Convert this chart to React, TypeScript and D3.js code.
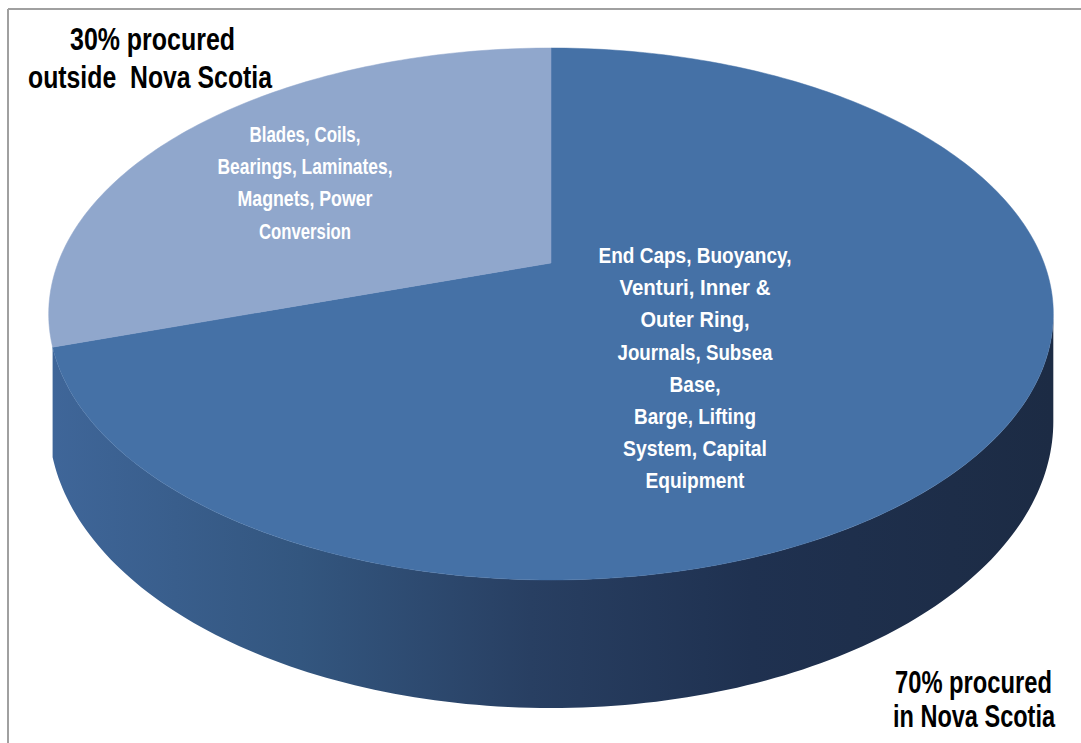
import React from "react";
import * as d3 from "d3";

// ---- data ----
const categories = ["Procured in Nova Scotia", "Procured outside Nova Scotia"];
const shares = [70, 30];
const percentLabels = [
  ["70% procured", "in Nova Scotia"],
  ["30% procured", "outside  Nova Scotia"],
];
const componentLabels = [
  [
    "End Caps, Buoyancy,",
    "Venturi, Inner &",
    "Outer Ring,",
    "Journals, Subsea",
    "Base,",
    "Barge, Lifting",
    "System, Capital",
    "Equipment",
  ],
  ["Blades, Coils,", "Bearings, Laminates,", "Magnets, Power", "Conversion"],
];

// ---- layout / style ----
const W = 1081;
const H = 743;
const CX = 551;
const CY = 263;
const RX = 493;
const RY = 256.2;
const PERSP = 0.1917;
const THICK = 103.5;
const topColors = ["#4571a6", "#90a7cc"];
const FONT = "'Liberation Sans Narrow', 'Arial Narrow', 'Liberation Sans', Arial, sans-serif";

const componentLayout = [
  { x: 695, y: 263, step: 32.2, widths: [193, 151, 109, 155, 51, 122, 144, 99] },
  { x: 305, y: 142, step: 32.2, widths: [111, 175, 135, 92] },
];
// anchor: right labels are right-aligned, left labels left-aligned
const percentLayout = [
  { anchor: "end", xs: [1052, 1055], y: 693, step: 34, widths: [157, 162] },
  { anchor: "start", xs: [70, 28], y: 50, step: 38, widths: [165, 244] },
];

function project(theta: number, level: number): [number, number] {
  const z = Math.cos(theta);
  const s = 1 / (1 + PERSP * z);
  return [CX + RX * Math.sin(theta) * s, CY - RY * z * s + level * THICK * s];
}

export default function App() {
  const pie = d3.pie<number>().sort(null).value((d) => d)(shares);
  const line = d3.line<[number, number]>();
  const samples = (a0: number, a1: number) => {
    const n = Math.max(2, Math.ceil(((a1 - a0) / (2 * Math.PI)) * 360));
    return d3.range(n + 1).map((i) => a0 + ((a1 - a0) * i) / n);
  };

  const silL = Math.acos(-PERSP);
  const silR = 2 * Math.PI - silL;

  const sides = pie
    .map((p, i) => {
      const a0 = Math.max(p.startAngle, silL);
      const a1 = Math.min(p.endAngle, silR);
      if (i !== 0 || a1 <= a0) return null;
      const angs = samples(a0, a1);
      const pts: [number, number][] = [
        ...angs.map((a) => project(a, 0)),
        ...angs.slice().reverse().map((a) => project(a, 1)),
      ];
      return { i, d: line(pts) + "Z" };
    })
    .filter(Boolean) as { i: number; d: string }[];

  const tops = pie.map((p, i) => {
    const pts: [number, number][] = [
      [CX, CY],
      ...samples(p.startAngle, p.endAngle).map((a) => project(a, 0)),
    ];
    return { i, d: line(pts) + "Z" };
  });

  return (
    <svg
      width={W}
      height={H}
      style={{ position: "absolute", left: 0, top: 0, background: "#fff" }}
    >
      <defs>
        <linearGradient id="sideGrad" gradientUnits="userSpaceOnUse" x1={50} y1={0} x2={1053} y2={0}>
          <stop offset="0" stopColor="#3f6699" />
          <stop offset="0.25" stopColor="#33567f" />
          <stop offset="0.48" stopColor="#283f62" />
          <stop offset="0.7" stopColor="#1f3150" />
          <stop offset="1" stopColor="#1c2b44" />
        </linearGradient>
      </defs>
      <line x1={8} y1={9} x2={W} y2={9} stroke="#a0a0a0" strokeWidth={2} />
      <line x1={8} y1={9} x2={8} y2={H} stroke="#a0a0a0" strokeWidth={2} />
      {sides.map((s) => (
        <path key={"s" + s.i} d={s.d} fill="url(#sideGrad)" />
      ))}
      {tops.map((t) => (
        <path key={"t" + t.i} d={t.d} fill={topColors[t.i]} stroke={topColors[t.i]} strokeWidth={0.5} />
      ))}
      {componentLabels.map((lines, i) => (
        <text key={"c" + i} fill="#fff" fontFamily={FONT} fontWeight="bold" fontSize={22} textAnchor="middle">
          {lines.map((l, j) => (
            <tspan
              key={j}
              x={componentLayout[i].x}
              y={componentLayout[i].y + j * componentLayout[i].step}
              textLength={componentLayout[i].widths[j]}
              lengthAdjust="spacingAndGlyphs"
            >
              {l}
            </tspan>
          ))}
        </text>
      ))}
      {percentLabels.map((lines, i) => (
        <text
          key={"p" + i}
          fill="#000"
          fontFamily={FONT}
          fontWeight="bold"
          fontSize={31}
          textAnchor={percentLayout[i].anchor}
          style={{ whiteSpace: "pre" }}
        >
          <title>{categories[i]}</title>
          {lines.map((l, j) => (
            <tspan
              key={j}
              x={percentLayout[i].xs[j]}
              y={percentLayout[i].y + j * percentLayout[i].step}
              textLength={percentLayout[i].widths[j]}
              lengthAdjust="spacingAndGlyphs"
            >
              {l}
            </tspan>
          ))}
        </text>
      ))}
    </svg>
  );
}
